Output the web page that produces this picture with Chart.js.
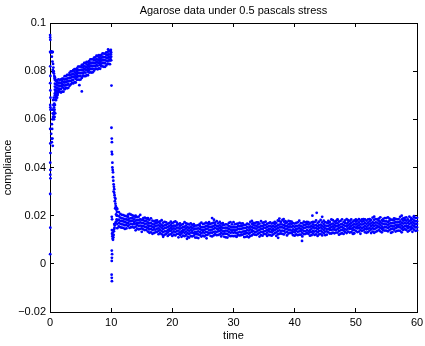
<!DOCTYPE html>
<html>
<head>
<meta charset="utf-8">
<script src="https://cdn.jsdelivr.net/npm/chart.js@4/dist/chart.umd.min.js"></script>
<style>
  html, body { margin: 0; padding: 0; background: #fff; }
  canvas { display: block; }
</style>
</head>
<body>
<canvas id="chart" width="425" height="346"></canvas>
<script>
/* Agarose creep test: compliance vs time, MATLAB-style dot scatter. */

// compliance values below are stored in units of 1e-4
const xTicks = [0, 10, 20, 30, 40, 50, 60];
const yTicks = [-0.02, 0, 0.02, 0.04, 0.06, 0.08, 0.1];
const yTickLabels = ['\u22120.02', '0', '0.02', '0.04', '0.06', '0.08', '0.1'];

// start-up transient (t < 1.6)
const earlyT = [0.02, 0.03, 0.05, 0.02, 0.08, 0.04, 0.06, 0.03, 0.05, 0.07, 0.04, 0.06, 0.08, 0.03, 0.05, 0.07, 0.04, 0.06, 0.05, 0.07, 0.03, 0.05, 0.03,
  0.15, 0.25, 0.35, 0.45, 0.3, 0.4, 0.5, 0.55, 0.45, 0.6, 0.65, 0.7, 0.75, 0.5, 0.8, 0.9,
  0.2, 0.25, 0.3, 0.35, 0.3, 0.4, 0.45, 0.35, 0.5, 0.55, 0.5, 0.6, 0.65, 0.7, 0.75, 0.8, 0.85, 0.9, 0.95, 1.0, 1.05, 1.1, 1.2, 1.3, 1.4, 1.5, 0.6, 0.4, 0.45,
  0.55, 0.7, 0.8, 0.65, 0.9, 1.0, 0.75, 1.15, 0.85, 1.25];
const earlyC = [950, 940, 930, 880, 878, 820, 780, 750, 720, 690, 660, 650, 640, 560, 500, 460, 420, 390, 370, 355, 290, 150, 40,
  880, 882, 878, 880, 860, 840, 830, 815, 805, 800, 790, 780, 770, 795, 775, 765,
  540, 520, 505, 560, 580, 600, 625, 640, 610, 660, 680, 690, 650, 630, 640, 660, 680, 690, 700, 680, 705, 715, 700, 715, 720, 725, 620, 520, 490,
  640, 665, 700, 600, 715, 695, 610, 690, 625, 705];

// loading plateau, samples every 0.2 from t = 0.8
const plateauT0 = 0.8, plateauDt = 0.2;
const plateauRows = [
  [708, 723, 736, 748, 763], [705, 720, 732, 745, 759], [709, 729, 741, 753, 763], [712, 727, 740, 752, 766], [715, 726, 739, 751, 763],
  [711, 726, 739, 751, 766], [715, 735, 747, 759, 769], [715, 730, 742, 755, 769], [725, 740, 753, 765, 779], [731, 742, 755, 767, 779],
  [729, 744, 757, 769, 784], [731, 746, 758, 771, 785], [739, 759, 771, 783, 793], [745, 760, 773, 785, 799], [751, 762, 775, 787, 799],
  [749, 764, 777, 789, 804], [754, 774, 786, 798, 808], [753, 768, 780, 793, 807], [764, 775, 788, 800, 812], [765, 780, 793, 805, 819],
  [764, 779, 792, 804, 819], [765, 780, 792, 805, 819], [772, 792, 804, 816, 826], [779, 790, 803, 815, 827], [780, 795, 808, 820, 834],
  [779, 794, 807, 819, 834], [784, 804, 816, 828, 838], [783, 798, 810, 823, 837], [794, 805, 818, 830, 842], [795, 810, 823, 835, 849],
  [794, 809, 822, 834, 849], [795, 810, 822, 835, 849], [802, 822, 834, 846, 856], [809, 820, 833, 845, 857], [810, 825, 838, 850, 864],
  [808, 823, 836, 848, 863], [812, 832, 844, 856, 866], [810, 825, 837, 850, 864], [820, 831, 844, 856, 868], [820, 835, 848, 860, 874],
  [818, 833, 846, 858, 873], [818, 833, 845, 858, 872], [824, 844, 856, 868, 878], [830, 841, 854, 866, 878], [830, 845, 858, 870, 884],
  [829, 844, 857, 869, 884]
];

// unloading drop and recovery (t 9.9 - 11)
const dropT = [9.9, 9.95, 10.0, 9.9, 10.0, 9.95, 10.0, 10.05, 4.8, 5.2, 9.5,
  10.05, 10.1, 10.12, 10.1, 10.15, 10.2, 10.2, 10.25, 10.3, 10.3, 10.35, 10.4, 10.45, 10.5, 10.5, 10.55, 10.6, 10.6, 10.7, 10.75, 10.8, 10.85, 10.9, 10.95, 10.7, 10.4, 10.65, 10.8, 10.9,
  10.1, 10.15, 10.12, 10.15, 10.2, 10.25, 10.3, 10.35, 10.4, 10.45, 10.5, 10.55, 10.6, 10.7, 10.8, 10.9, 10.25, 10.5, 10.35,
  10.1, 10.15, 10.12, 10.1, 10.08, 10.1, 10.12];
const dropC = [880, 870, 860, 850, 878, 888, 845, 740, 742, 716, 890,
  565, 520, 505, 465, 455, 420, 400, 390, 380, 360, 345, 330, 320, 310, 295, 285, 275, 260, 250, 240, 235, 225, 230, 215, 270, 300, 230, 205, 200,
  195, 185, 140, 125, 115, 105, 100, 110, 120, 135, 145, 150, 160, 170, 175, 185, 130, 165, 140,
  55, 40, 25, 12, -45, -58, -72];

// recovery band, samples every 0.25 from t = 11
const bandT0 = 11, bandDt = 0.25;
const bandRows = [
  [148, 165, 180, 200, 228], [155, 170, 183, 198, 215], [152, 166, 178, 192, 207], [150, 164, 177, 189, 203],
  [149, 163, 176, 188, 202], [145, 160, 173, 185, 199], [147, 161, 171, 184, 197], [157, 170, 183, 195, 204],
  [149, 163, 176, 188, 207], [152, 166, 178, 190, 204], [153, 164, 179, 191, 201], [150, 165, 173, 185, 198],
  [139, 154, 167, 179, 193], [146, 161, 169, 181, 194], [143, 157, 170, 182, 196], [145, 159, 172, 184, 203],
  [133, 147, 157, 170, 183], [143, 156, 169, 181, 190], [140, 154, 166, 178, 192], [141, 152, 167, 179, 189],
  [134, 148, 160, 172, 186], [129, 143, 156, 168, 182], [131, 145, 158, 170, 189], [125, 140, 153, 165, 179],
  [128, 143, 151, 163, 176], [131, 142, 157, 169, 179], [133, 146, 159, 171, 180], [123, 137, 147, 160, 173],
  [129, 142, 155, 167, 176], [123, 137, 150, 162, 181], [117, 132, 145, 157, 171], [121, 135, 148, 160, 174],
  [124, 135, 150, 162, 172], [116, 130, 140, 153, 166], [121, 136, 144, 156, 169], [123, 137, 149, 161, 175],
  [116, 130, 143, 155, 169], [121, 135, 147, 159, 173], [118, 132, 145, 157, 176], [124, 137, 150, 162, 171],
  [110, 125, 138, 150, 164], [120, 131, 146, 158, 168], [112, 126, 136, 149, 162], [117, 132, 140, 152, 165],
  [115, 129, 142, 154, 173], [121, 134, 147, 159, 168], [113, 127, 140, 152, 166], [109, 124, 137, 149, 163],
  [116, 130, 142, 154, 168], [114, 129, 137, 149, 162], [117, 128, 143, 155, 165], [109, 123, 133, 146, 159],
  [109, 123, 133, 146, 159], [107, 122, 135, 147, 161], [119, 132, 145, 157, 166], [113, 127, 140, 152, 171],
  [117, 132, 140, 152, 165], [114, 128, 141, 153, 167], [119, 133, 145, 157, 171], [120, 131, 146, 158, 168],
  [126, 139, 152, 164, 173], [116, 130, 140, 153, 166], [114, 129, 142, 154, 168], [118, 132, 145, 157, 171],
  [123, 134, 149, 161, 171], [119, 133, 146, 158, 177], [120, 135, 143, 155, 168], [122, 136, 148, 160, 174],
  [114, 128, 141, 153, 167], [122, 135, 148, 160, 169], [112, 126, 136, 149, 162], [110, 125, 138, 150, 164],
  [109, 124, 137, 149, 163], [118, 132, 144, 156, 170], [115, 129, 142, 154, 173], [116, 131, 139, 151, 164],
  [115, 129, 142, 154, 173], [116, 131, 139, 151, 164], [113, 127, 140, 152, 166], [119, 130, 145, 157, 167],
  [118, 132, 144, 156, 170], [119, 130, 145, 157, 167], [121, 134, 147, 159, 168], [111, 125, 135, 148, 161],
  [112, 126, 136, 149, 162], [114, 128, 141, 153, 167], [110, 125, 138, 150, 164], [116, 130, 143, 155, 174],
  [118, 133, 141, 153, 166], [123, 136, 149, 161, 170], [121, 132, 147, 159, 169], [120, 134, 146, 158, 172],
  [125, 138, 151, 163, 172], [113, 128, 141, 153, 167], [119, 133, 146, 158, 177], [117, 131, 144, 156, 170],
  [124, 135, 150, 162, 172], [123, 137, 149, 161, 175], [116, 130, 140, 153, 166], [121, 136, 144, 156, 169],
  [119, 133, 146, 158, 172], [117, 131, 141, 154, 167], [122, 137, 145, 157, 170], [127, 140, 153, 165, 174],
  [116, 131, 144, 156, 170], [122, 136, 149, 161, 180], [125, 139, 151, 163, 177], [126, 137, 152, 164, 174],
  [124, 138, 151, 163, 182], [122, 136, 149, 161, 175], [130, 143, 156, 168, 177], [118, 133, 146, 158, 172],
  [126, 140, 152, 164, 178], [129, 142, 155, 167, 176], [127, 138, 153, 165, 175], [119, 133, 143, 156, 169],
  [117, 131, 141, 154, 167], [122, 137, 145, 157, 170], [119, 133, 146, 158, 172], [121, 135, 148, 160, 179],
  [121, 136, 144, 156, 169], [114, 129, 142, 154, 168], [123, 137, 149, 161, 175], [124, 135, 150, 162, 172],
  [127, 140, 153, 165, 174], [125, 136, 151, 163, 173], [117, 131, 141, 154, 167], [119, 133, 146, 158, 172],
  [126, 137, 152, 164, 174], [120, 134, 147, 159, 173], [122, 136, 149, 161, 180], [116, 131, 144, 156, 170],
  [122, 136, 149, 161, 175], [124, 138, 151, 163, 182], [118, 133, 146, 158, 172], [127, 141, 153, 165, 179],
  [119, 134, 147, 159, 173], [121, 135, 145, 158, 171], [131, 144, 157, 169, 178], [126, 141, 149, 161, 174],
  [126, 140, 153, 165, 184], [129, 143, 155, 167, 181], [127, 142, 150, 162, 175], [130, 141, 156, 168, 178],
  [130, 144, 156, 168, 182], [121, 136, 149, 161, 175], [125, 139, 152, 164, 178], [127, 141, 154, 166, 185],
  [124, 138, 148, 161, 174], [132, 143, 158, 170, 180], [128, 142, 155, 167, 186], [134, 147, 160, 172, 181],
  [130, 145, 153, 165, 178], [132, 146, 158, 170, 184], [125, 139, 149, 162, 175], [127, 141, 154, 166, 180],
  [137, 150, 163, 175, 184], [132, 147, 155, 167, 180], [134, 148, 160, 172, 186], [125, 140, 153, 165, 179],
  [137, 148, 163, 175, 185], [139, 152, 165, 177, 186], [131, 145, 158, 170, 184], [129, 143, 153, 166, 179],
  [132, 146, 159, 171, 185], [138, 149, 164, 176, 186], [128, 143, 156, 168, 182], [134, 148, 161, 173, 192],
  [129, 144, 157, 169, 183], [133, 147, 160, 172, 186], [136, 151, 159, 171, 184], [141, 154, 167, 179, 188],
  [135, 149, 162, 174, 193], [131, 145, 155, 168, 181], [139, 150, 165, 177, 187], [138, 152, 164, 176, 190],
  [138, 152, 164, 176, 190], [135, 149, 162, 174, 193], [141, 154, 167, 179, 188], [129, 144, 157, 169, 183],
  [132, 146, 156, 169, 182], [142, 155, 168, 180, 189], [134, 148, 161, 173, 187], [137, 152, 160, 172, 185],
  [138, 153, 161, 173, 186], [137, 151, 164, 176, 195], [131, 146, 159, 171, 185], [141, 152, 167, 179, 189],
  [144, 157, 170, 182, 191], [141, 155, 167, 179, 193], [134, 148, 158, 171, 184], [138, 152, 165, 177, 196],
  [143, 154, 169, 181, 191], [133, 148, 161, 173, 187], [142, 156, 168, 180, 194], [137, 151, 164, 176, 190],
  [138, 152, 165, 177, 191]
];

// stray points around the band
const outT = [22.4, 25.6, 26.5, 26.8, 37.3, 37.5, 38.2, 41.2, 42.9, 43.6, 44.5, 49.6, 53, 30.5, 33, 47, 57.5, 59.5, 18.5, 16, 14];
const outC = [104, 106, 190, 183, 108, 188, 186, 95, 200, 212, 195, 125, 196, 112, 178, 185, 200, 198, 112, 190, 200];

const SCALE = 1e-4;
const points = [];
earlyT.forEach((t, i) => points.push({ x: t, y: earlyC[i] * SCALE }));
plateauRows.forEach((row, i) => row.forEach((c) => points.push({ x: plateauT0 + i * plateauDt, y: c * SCALE })));
dropT.forEach((t, i) => points.push({ x: t, y: dropC[i] * SCALE }));
bandRows.forEach((row, i) => row.forEach((c) => points.push({ x: bandT0 + i * bandDt, y: c * SCALE })));
outT.forEach((t, i) => points.push({ x: t, y: outC[i] * SCALE }));

Chart.defaults.font.family = '"Liberation Sans", Arial, Helvetica, sans-serif';
Chart.defaults.font.size = 11;
Chart.defaults.color = '#000';

const font = { size: 11 };
// negative tick length -> MATLAB-style ticks pointing into the plot
const inwardTicks = { display: true, drawOnChartArea: false, drawTicks: true, tickLength: -4, color: '#000', lineWidth: 1 };
const edge = { display: true, color: '#000', width: 1 };
const setX = (s) => { s.ticks = xTicks.map((v) => ({ value: v })); };
const setY = (s) => { s.ticks = yTicks.map((v) => ({ value: v })); };

new Chart(document.getElementById('chart'), {
  type: 'scatter',
  data: {
    datasets: [{
      data: points,
      xAxisID: 'x',
      yAxisID: 'y',
      pointRadius: 1.4,
      pointBackgroundColor: '#0000ff',
      pointBorderWidth: 0,
      pointHoverRadius: 0,
      clip: false,
    }],
  },
  options: {
    responsive: false,
    animation: false,
    devicePixelRatio: 1,
    events: [],
    layout: { padding: { right: 8 } },
    plugins: {
      legend: { display: false },
      tooltip: { enabled: false },
      title: {
        display: true,
        text: 'Agarose data under 0.5 pascals stress',
        fullSize: false,
        color: '#000',
        font: { size: 11, weight: 'normal' },
        padding: { top: 4, bottom: 5.8 },
      },
    },
    scales: {
      x: {
        type: 'linear', position: 'bottom', min: 0, max: 60,
        afterBuildTicks: setX,
        ticks: { font, padding: 8, maxRotation: 0, autoSkip: false },
        grid: inwardTicks,
        border: edge,
        title: { display: true, text: 'time', font, padding: { top: 0, bottom: 3.4 } },
        afterFit: (s) => { s.height = 34; s.paddingLeft = 0; s.paddingRight = 0; },
      },
      x2: {
        type: 'linear', axis: 'x', position: 'top', min: 0, max: 60,
        afterBuildTicks: setX,
        ticks: { display: false },
        grid: inwardTicks,
        border: edge,
        afterFit: (s) => { s.height = 0; s.paddingLeft = 0; s.paddingRight = 0; },
      },
      y: {
        type: 'linear', position: 'left', min: -0.02, max: 0.1,
        afterBuildTicks: setY,
        ticks: { font, padding: 8, autoSkip: false, callback: (v, i) => yTickLabels[i] },
        grid: inwardTicks,
        border: edge,
        title: { display: true, text: 'compliance', font, padding: { top: 1.4, bottom: 0 } },
        afterFit: (s) => { s.width = 50; },
      },
      y2: {
        type: 'linear', axis: 'y', position: 'right', min: -0.02, max: 0.1,
        afterBuildTicks: setY,
        ticks: { display: false },
        grid: inwardTicks,
        border: edge,
        afterFit: (s) => { s.width = 0; },
      },
    },
  },
});
</script>
</body>
</html>
